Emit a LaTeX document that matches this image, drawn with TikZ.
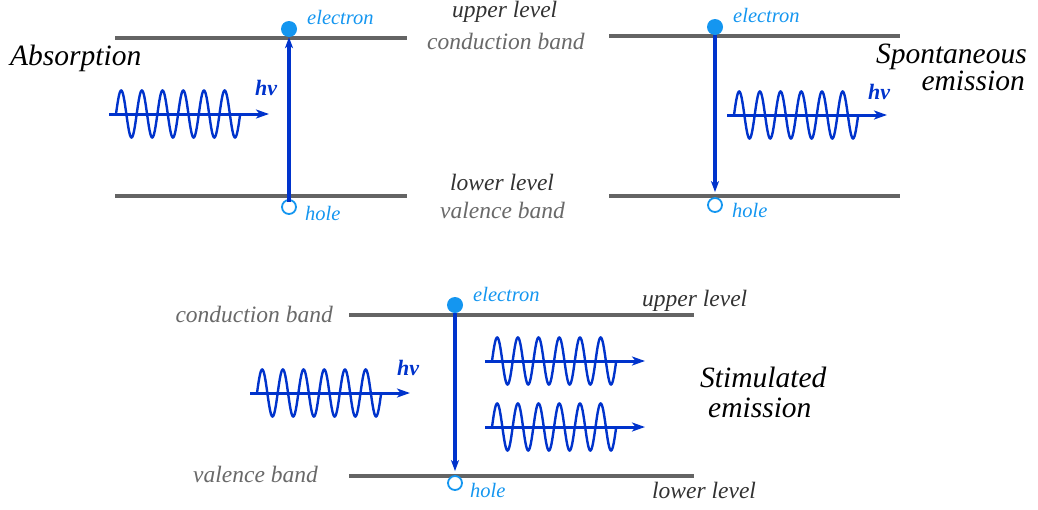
\documentclass[tikz,border=0pt]{standalone}
\usepackage{fontspec}
\setmainfont{Liberation Serif}
\usetikzlibrary{arrows.meta}
\definecolor{photonblue}{RGB}{0,51,204}
\definecolor{carrierblue}{RGB}{20,150,240}
\definecolor{levelgrey}{RGB}{100,100,100}
\definecolor{darktext}{RGB}{50,50,50}
\definecolor{greytext}{RGB}{105,105,105}
\begin{document}
\begin{tikzpicture}[
        x=1pt, y=-1pt,
        level/.style={draw=levelgrey, line width=3.3pt},
        transition/.style={draw=photonblue, line width=3.2pt, -{Stealth[length=11pt,width=8pt,inset=3pt]}},
        electronn/.style={circle, fill=carrierblue, minimum size=16pt, inner sep=0pt},
        holen/.style={circle, draw=carrierblue, line width=1.8pt, fill=white, minimum size=14pt, inner sep=0pt},
        carrier/.style={text=carrierblue, font=\fontsize{20.5}{24}\selectfont\itshape, inner sep=0pt, anchor=base west},
        levelname/.style={text=darktext, font=\fontsize{23.5}{28}\selectfont\itshape, inner sep=0pt, anchor=base west},
        bandname/.style={levelname, text=greytext},
        processname/.style={font=\fontsize{29.5}{34}\selectfont\itshape, inner sep=0pt},
        energy/.style={text=photonblue, font=\fontsize{22}{26}\selectfont\bfseries\itshape, inner sep=0pt, anchor=base west},
        photon/.pic={
            \draw[photonblue, line width=2.4pt] plot[domain=0:2160, samples=241, smooth] ({7+\x/360*20.7}, {-23.5*sin(\x)});
            \draw[photonblue, line width=3pt, -{Stealth[length=13pt,width=9pt,inset=3.5pt]}] (0,0) -- (160,0);
        },
    ]
    \useasboundingbox (0,0) rectangle (1038,509);
    % absorption
    \coordinate (a-ul) at (115,38);
    \coordinate (a-ur) at (407,38);
    \coordinate (a-ll) at (115,196);
    \coordinate (a-lr) at (407,196);
    \draw[level] (a-ul) -- (a-ur);
    \draw[level] (a-ll) -- (a-lr);
    \node[electronn](a-el) at (289,29) {};
    \node[holen](a-hole) at (289,207) {};
    \draw[transition, shorten <=-3pt] (a-hole) -- (a-el);
    \node[carrier](a-eltext) at (307,24) {electron};
    \node[carrier](a-holetext) at (305,220) {hole};
    \pic at (109,114) {photon};
    \node[energy](a-hv) at (255,95) {hv};
    \node[processname, anchor=base west](a-name) at (10,65) {Absorption};
    % level and band names
    \node[levelname](t-upper) at (452,17) {upper level};
    \node[bandname](t-cond) at (427,49) {conduction band};
    \node[levelname](t-lower) at (450,190) {lower level};
    \node[bandname](t-val) at (440,218) {valence band};
    % spontaneous emission
    \coordinate (s-ul) at (609,36);
    \coordinate (s-ur) at (900,36);
    \coordinate (s-ll) at (609,196);
    \coordinate (s-lr) at (900,196);
    \draw[level] (s-ul) -- (s-ur);
    \draw[level] (s-ll) -- (s-lr);
    \node[electronn](s-el) at (715,27) {};
    \node[holen](s-hole) at (715,205) {};
    \draw[transition, shorten >=5pt] (s-el) -- (s-hole);
    \node[carrier](s-eltext) at (733,22) {electron};
    \node[carrier](s-holetext) at (732,217) {hole};
    \pic at (727,115) {photon};
    \node[energy](s-hv) at (868,99) {hv};
    \node[processname, anchor=base east](s-name) at (1027,63) {Spontaneous};
    \node[processname, anchor=base east](s-name2) at (1025,90) {emission};
    % stimulated emission
    \coordinate (m-ul) at (349,315);
    \coordinate (m-ur) at (694,315);
    \coordinate (m-ll) at (349,476);
    \coordinate (m-lr) at (694,476);
    \draw[level] (m-ul) -- (m-ur);
    \draw[level] (m-ll) -- (m-lr);
    \node[electronn](m-el) at (455,305) {};
    \node[holen](m-hole) at (455,483) {};
    \draw[transition, shorten >=4pt] (m-el) -- (m-hole);
    \node[carrier](m-eltext) at (473,301) {electron};
    \node[carrier](m-holetext) at (470,497) {hole};
    \node[bandname, anchor=base east](m-cond) at (333,322) {conduction band};
    \node[bandname, anchor=base east](m-val) at (318,482) {valence band};
    \node[levelname](m-upper) at (642,306) {upper level};
    \node[levelname](m-lower) at (652,498) {lower level};
    \pic at (250,393) {photon};
    \node[energy](m-hv) at (397,375) {hv};
    \pic at (485,361) {photon};
    \pic at (485,427) {photon};
    \node[processname, anchor=base west](m-name) at (700,387) {Stimulated};
    \node[processname, anchor=base west](m-name2) at (708,417) {emission};
\end{tikzpicture}
\end{document}
